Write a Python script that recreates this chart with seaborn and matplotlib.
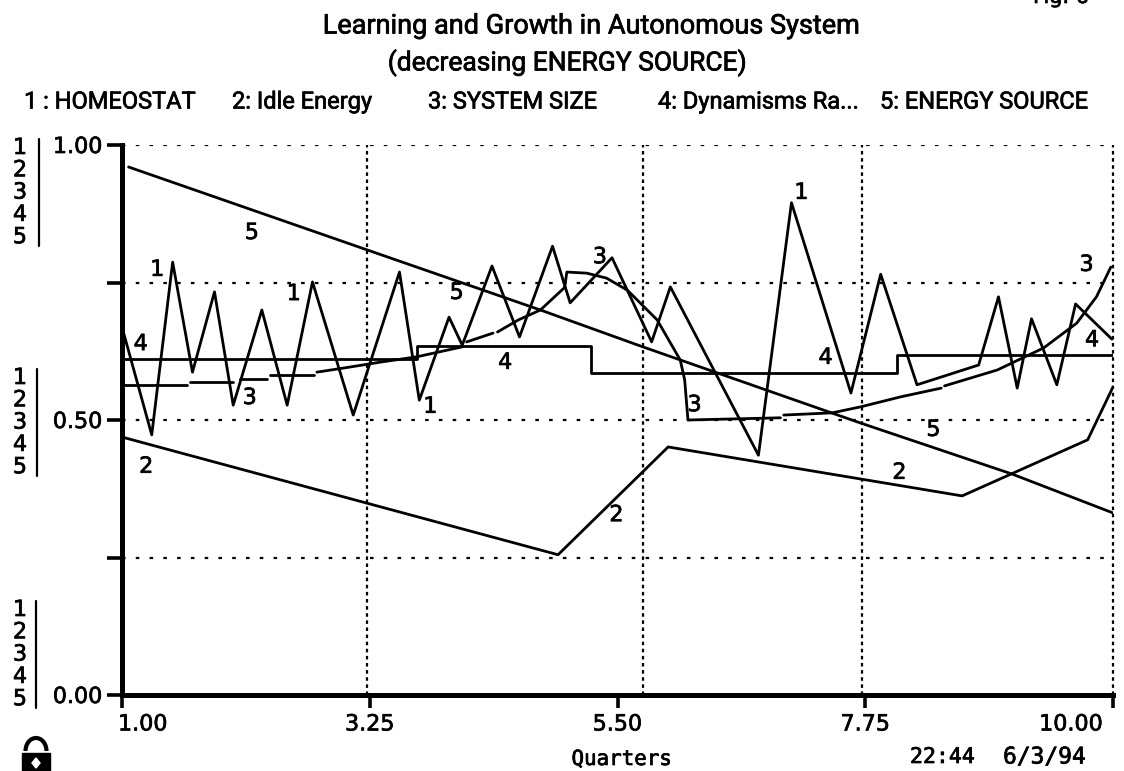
import numpy as np
import pandas as pd
import matplotlib
matplotlib.use("Agg")
import matplotlib.pyplot as plt
import matplotlib.patheffects as pe
from matplotlib.transforms import ScaledTranslation
import seaborn as sns
from matplotlib.patches import Rectangle, Arc, Polygon

# values
homeostat_x = [1.00,1.27,1.46,1.64,1.84,2.01,2.27,2.50,2.73,3.10,3.52,3.70,3.97,4.09,4.36,4.61,4.91,5.07,5.45,5.81,5.98,6.78,7.08,7.62,7.89,8.22,8.78,8.96,9.13,9.26,9.49,9.66,9.99]
homeostat_y = [.669,.473,.787,.587,.733,.527,.700,.527,.751,.509,.769,.536,.687,.636,.780,.651,.816,.713,.795,.642,.742,.436,.895,.549,.765,.564,.600,.724,.558,.684,.564,.711,.647]

idle_x = [1.00,4.96,5.96,8.63,9.77,10.00]
idle_y = [.469,.255,.451,.362,.464,.560]

# the size line is broken into dashes in the original, seg keeps them apart
size_x = [1.00,1.59, 1.62,2.01, 2.07,2.32, 2.34,2.74, 2.77,3.03,3.34,3.68,4.09, 4.13,4.37,
          4.41,4.60,4.80,5.02,5.04,5.22,5.40,5.59,5.86,6.07,6.11,6.14,6.98,
          7.01,7.45,7.71,8.07,8.44, 8.47,8.95,9.37,9.67,9.85,9.98]
size_y = [.564,.564, .569,.569, .575,.575, .582,.582, .587,.595,.605,.615,.633, .642,.658,
          .660,.682,.700,.741,.769,.767,.758,.736,.682,.609,.573,.500,.504,
          .509,.513,.524,.542,.558, .562,.591,.631,.676,.724,.778]
size_seg = [0,0, 1,1, 2,2, 3,3, 4,4,4,4,4, 5,5,
            6,6,6,6,6,6,6,6,6,6,6,6,6,
            7,7,7,7,7, 8,8,8,8,8,8]

dyn_x = [1.00,3.68,5.26,8.04,10.00]
dyn_y = [.611,.635,.585,.618,.618]

source_x = [1.06,3.23,4.80,5.73,7.70,9.08,10.00]
source_y = [.960,.809,.700,.633,.495,.402,.331]

x_ticks = [1.00,3.25,5.50,7.75,10.00]
x_ticklabels = ["1.00","3.25","5.50","7.75","10.00"]
y_ticks = [0,.25,.5,.75,1.0]
y_ticklabels = ["0.00","","0.50","","1.00"]
grid_x = [3.225,5.73,7.72,10.00]
grid_y = [.25,.5,.75,1.0]

legend_names = ["1 : HOMEOSTAT","2: Idle Energy","3: SYSTEM SIZE","4: Dynamisms Ra...","5: ENERGY SOURCE"]
legend_px = [24,232,428,658,880]

label_txt = ["5","1","1","4","3","5","3","4","1","3","1","4","3","4","5","2","2","2"]
label_x = [2.18,1.32,2.56,1.17,2.16,4.04,5.34,4.48,3.80,6.20,7.17,7.39,9.76,9.81,8.37,8.06,5.49,1.22]
label_y = [.840,.773,.729,.638,.540,.731,.796,.604,.524,.527,.913,.613,.782,.645,.482,.404,.327,.415]

sns.set_theme(style="white")
plt.rcParams['font.family'] = ['Roboto','DejaVu Sans']
BLACK = "#000000"
LW = 2.0
TXT = 16
HEAVY = [pe.withStroke(linewidth=0.5,foreground=BLACK)]

fig = plt.figure(figsize=(11.24,7.71),dpi=100,facecolor="white")
ax = fig.add_axes([122/1124,(771-695)/771,(1113-122)/1124,550/771])
ax.set_facecolor("white")

for v in grid_y:
    ax.axhline(v,color=BLACK,lw=1.6,ls=(0,(1.6,4.6)),zorder=1)
for v in grid_x:
    ax.axvline(v,color=BLACK,lw=1.6,ls=(0,(1.6,1.6)),zorder=1,clip_on=False)

def draw(x,y,**kw):
    sns.lineplot(x=np.array(x),y=np.array(y),ax=ax,color=BLACK,lw=LW,estimator=None,
                 sort=False,legend=False,zorder=3,**kw)

draw(homeostat_x,homeostat_y)
draw(idle_x,idle_y)
sns.lineplot(data=pd.DataFrame({"q":size_x,"v":size_y,"seg":size_seg}),x="q",y="v",units="seg",
             estimator=None,sort=False,color=BLACK,lw=LW,legend=False,zorder=3,ax=ax)
draw(dyn_x,dyn_y,drawstyle="steps-post")
draw(source_x,source_y)

for t,x,y in zip(label_txt,label_x,label_y):
    ax.text(x,y,t,ha="center",va="center",fontsize=TXT,color=BLACK,family=['DejaVu Sans'],zorder=4,path_effects=HEAVY)

ax.set_xlim(1,10)
ax.set_ylim(0,1)
ax.set_xlabel("")
ax.set_ylabel("")
ax.set_xticks(x_ticks)
ax.set_xticklabels(x_ticklabels,family=['DejaVu Sans'],fontsize=TXT,path_effects=HEAVY)
ax.set_yticks(y_ticks)
ax.set_yticklabels(y_ticklabels,family=['DejaVu Sans'],fontsize=TXT,path_effects=HEAVY)
ax.tick_params(axis="x",length=9,width=2.6,color=BLACK,pad=5,bottom=True,labelcolor=BLACK)
ax.tick_params(axis="y",length=11,width=2.6,color=BLACK,pad=3,left=True,labelcolor=BLACK)
xl = ax.get_xticklabels()
xl[0].set_ha("left")
xl[0].set_transform(xl[0].get_transform()+ScaledTranslation(-0.04,0,fig.dpi_scale_trans))
xl[-1].set_ha("right")
xl[-1].set_transform(xl[-1].get_transform()+ScaledTranslation(-0.10,0,fig.dpi_scale_trans))
sns.despine(ax=ax)
for s in ["left","bottom"]:
    ax.spines[s].set_linewidth(3.6)
    ax.spines[s].set_color(BLACK)
    ax.spines[s].set_zorder(5)

# page furniture, in pixel coordinates
pg = fig.add_axes([0,0,1,1],zorder=-1)
pg.set_xlim(0,1124)
pg.set_ylim(771,0)
pg.axis("off")

pg.text(592,26,"Learning and Growth in Autonomous System",ha="center",va="center",fontsize=19.5,color=BLACK,family=['Roboto'],path_effects=HEAVY)
pg.text(567,63,"(decreasing ENERGY SOURCE)",ha="center",va="center",fontsize=19,color=BLACK,family=['Roboto'],path_effects=HEAVY)
pg.text(1033,3,"Fig. 6",ha="left",va="baseline",fontsize=15,color=BLACK,family=['DejaVu Sans'],path_effects=HEAVY)
for name,px in zip(legend_names,legend_px):
    pg.text(px,102,name,ha="left",va="center",fontsize=17,color=BLACK,family=['Roboto'],path_effects=HEAVY)

stack_tops = [148,378,610]
stack_x = [39,37,36]
for top,bx in zip(stack_tops,stack_x):
    for i,d in enumerate("12345"):
        pg.text(20,top+i*22.3,d,ha="center",va="center",fontsize=TXT,color=BLACK,family=['DejaVu Sans'],path_effects=HEAVY)
    pg.plot([bx,bx],[top-9,top+98],color=BLACK,lw=1.6)

MONO = ['DejaVu Sans Mono']
pg.text(622,759,"Quarters",ha="center",va="center",fontsize=15,color=BLACK,family=MONO,path_effects=HEAVY)
pg.text(910,757,"22:44",ha="left",va="center",fontsize=15.5,color=BLACK,family=MONO,path_effects=HEAVY)
pg.text(1003,757,"6/3/94",ha="left",va="center",fontsize=16.5,color=BLACK,family=MONO,path_effects=HEAVY)

# unlocked padlock, cut by the bottom edge
pg.add_patch(Rectangle((22,753),28,18,fc=BLACK,ec=BLACK))
pg.add_patch(Arc((36,751),21,26,theta1=180,theta2=360,ec=BLACK,lw=3))
pg.add_patch(Polygon([(36,758),(40,763),(36,768),(32,763)],fc="white",ec="white"))

fig.savefig("out.png",dpi=100)
